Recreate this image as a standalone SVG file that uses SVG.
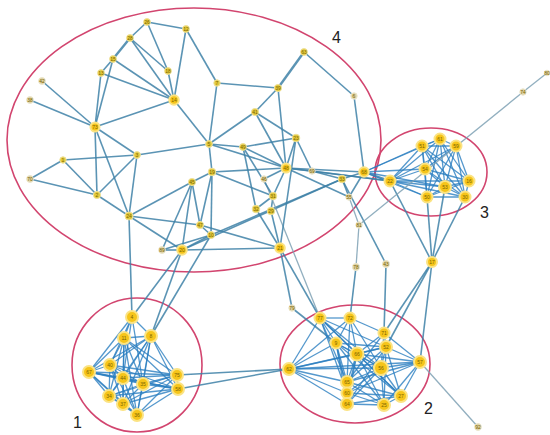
<svg xmlns="http://www.w3.org/2000/svg" width="550" height="435" viewBox="0 0 550 435">
<style>
.e{stroke:#3f82a8;stroke-width:1.6;opacity:.85}
.c{stroke:#2b7fc1;stroke-width:1.3;opacity:.8}
.l{stroke:#7fa2b5;stroke-width:1.3;opacity:.85}
.ring{fill:none;stroke:#d2456f;stroke-width:1.6}
.s circle{fill:#e2c93c;stroke:#efe19a;stroke-width:1}
.b circle{fill:#f6c51a;stroke:#fbe383;stroke-width:2}
.g circle{fill:#ddd1a2;stroke:#ece6cc;stroke-width:1}
.node text{font-family:"Liberation Sans",Arial,sans-serif;font-size:5px;fill:#7a6400;text-anchor:middle}
.lab{font-family:"Liberation Sans",Arial,sans-serif;font-size:16px;fill:#222}
</style>
<rect width="550" height="435" fill="#fff"/>
<g id="rings">
<ellipse class="ring" cx="194" cy="140" rx="187" ry="132"/>
<ellipse class="ring" cx="431" cy="172" rx="56" ry="44"/>
<ellipse class="ring" cx="137" cy="365" rx="65" ry="67"/>
<ellipse class="ring" cx="355" cy="364" rx="75" ry="59"/>
</g>
<g id="connectors">
<line class="e" x1="147" y1="22" x2="186" y2="29"/>
<line class="e" x1="147" y1="22" x2="130" y2="38"/>
<line class="e" x1="147" y1="22" x2="168" y2="71"/>
<line class="e" x1="130" y1="38" x2="113" y2="59" style="stroke-width:2.4"/>
<line class="e" x1="130" y1="38" x2="174" y2="100"/>
<line class="e" x1="130" y1="38" x2="168" y2="71"/>
<line class="e" x1="113" y1="59" x2="174" y2="100"/>
<line class="e" x1="113" y1="59" x2="101" y2="73"/>
<line class="e" x1="113" y1="59" x2="95" y2="127"/>
<line class="e" x1="101" y1="73" x2="174" y2="100"/>
<line class="e" x1="101" y1="73" x2="95" y2="127"/>
<line class="e" x1="168" y1="71" x2="174" y2="100"/>
<line class="e" x1="186" y1="29" x2="174" y2="100"/>
<line class="e" x1="186" y1="29" x2="217" y2="83"/>
<line class="e" x1="217" y1="83" x2="278" y2="88"/>
<line class="e" x1="217" y1="83" x2="209" y2="144"/>
<line class="e" x1="174" y1="100" x2="95" y2="127"/>
<line class="e" x1="174" y1="100" x2="209" y2="144"/>
<line class="e" x1="95" y1="127" x2="42" y2="81"/>
<line class="e" x1="95" y1="127" x2="30" y2="100"/>
<line class="e" x1="95" y1="127" x2="97" y2="195"/>
<line class="e" x1="95" y1="127" x2="129" y2="216"/>
<line class="e" x1="95" y1="127" x2="137" y2="155"/>
<line class="e" x1="278" y1="88" x2="304" y2="52" style="stroke-width:2.4"/>
<line class="e" x1="304" y1="52" x2="354" y2="96"/>
<line class="e" x1="354" y1="96" x2="364" y2="172"/>
<line class="e" x1="278" y1="88" x2="255" y2="112"/>
<line class="e" x1="278" y1="88" x2="286" y2="168"/>
<line class="e" x1="255" y1="112" x2="296" y2="138"/>
<line class="e" x1="255" y1="112" x2="209" y2="144"/>
<line class="e" x1="255" y1="112" x2="286" y2="168"/>
<line class="e" x1="296" y1="138" x2="243" y2="147"/>
<line class="e" x1="296" y1="138" x2="286" y2="168"/>
<line class="e" x1="209" y1="144" x2="243" y2="147"/>
<line class="e" x1="209" y1="144" x2="212" y2="172"/>
<line class="e" x1="63" y1="160" x2="137" y2="155"/>
<line class="e" x1="63" y1="160" x2="30" y2="179"/>
<line class="e" x1="63" y1="160" x2="97" y2="195"/>
<line class="e" x1="30" y1="179" x2="97" y2="195"/>
<line class="e" x1="97" y1="195" x2="129" y2="216"/>
<line class="e" x1="97" y1="195" x2="137" y2="155"/>
<line class="e" x1="137" y1="155" x2="129" y2="216"/>
<line class="e" x1="137" y1="155" x2="209" y2="144"/>
<line class="e" x1="129" y1="216" x2="192" y2="182"/>
<line class="e" x1="129" y1="216" x2="182" y2="250"/>
<line class="e" x1="129" y1="216" x2="200" y2="225"/>
<line class="e" x1="129" y1="216" x2="132" y2="317"/>
<line class="e" x1="212" y1="172" x2="192" y2="182"/>
<line class="e" x1="212" y1="172" x2="286" y2="168"/>
<line class="e" x1="212" y1="172" x2="211" y2="235"/>
<line class="e" x1="192" y1="182" x2="200" y2="225"/>
<line class="e" x1="192" y1="182" x2="162" y2="250"/>
<line class="e" x1="192" y1="182" x2="182" y2="250"/>
<line class="e" x1="286" y1="168" x2="264" y2="179"/>
<line class="e" x1="286" y1="168" x2="243" y2="147"/>
<line class="e" x1="286" y1="168" x2="312" y2="171"/>
<line class="e" x1="312" y1="171" x2="342" y2="179"/>
<line class="e" x1="342" y1="179" x2="364" y2="172"/>
<line class="e" x1="364" y1="172" x2="390" y2="181" style="stroke-width:2.2"/>
<line class="e" x1="286" y1="168" x2="273" y2="196"/>
<line class="e" x1="273" y1="196" x2="256" y2="209"/>
<line class="e" x1="273" y1="196" x2="271" y2="211"/>
<line class="e" x1="256" y1="209" x2="280" y2="248"/>
<line class="e" x1="271" y1="211" x2="280" y2="248"/>
<line class="e" x1="200" y1="225" x2="280" y2="248"/>
<line class="e" x1="182" y1="250" x2="280" y2="248"/>
<line class="e" x1="342" y1="179" x2="349" y2="197"/>
<line class="l" x1="349" y1="197" x2="359" y2="225"/>
<line class="e" x1="364" y1="172" x2="349" y2="197"/>
<line class="e" x1="182" y1="250" x2="342" y2="179"/>
<line class="e" x1="211" y1="235" x2="342" y2="179"/>
<line class="e" x1="200" y1="225" x2="211" y2="235"/>
<line class="e" x1="211" y1="235" x2="182" y2="250"/>
<line class="e" x1="162" y1="250" x2="211" y2="235"/>
<line class="e" x1="162" y1="250" x2="182" y2="250"/>
<line class="l" x1="264" y1="179" x2="320" y2="318"/>
<line class="e" x1="280" y1="248" x2="292" y2="308"/>
<line class="e" x1="280" y1="248" x2="320" y2="318"/>
<line class="l" x1="359" y1="225" x2="356" y2="267"/>
<line class="e" x1="356" y1="267" x2="350" y2="318"/>
<line class="e" x1="386" y1="264" x2="342" y2="179"/>
<line class="e" x1="386" y1="264" x2="384" y2="333"/>
<line class="e" x1="256" y1="209" x2="243" y2="147"/>
<line class="e" x1="273" y1="196" x2="212" y2="172"/>
<line class="e" x1="243" y1="147" x2="273" y2="196"/>
<line class="e" x1="296" y1="138" x2="312" y2="171"/>
<line class="e" x1="286" y1="168" x2="349" y2="197"/>
<line class="e" x1="280" y1="248" x2="296" y2="138"/>
<line class="e" x1="209" y1="144" x2="286" y2="168"/>
<line class="e" x1="212" y1="172" x2="200" y2="225"/>
<line class="e" x1="390" y1="181" x2="286" y2="168"/>
<line class="e" x1="390" y1="181" x2="312" y2="171"/>
<line class="e" x1="364" y1="172" x2="286" y2="168"/>
<line class="e" x1="292" y1="308" x2="336" y2="343"/>
<line class="e" x1="132" y1="317" x2="182" y2="250"/>
<line class="e" x1="151" y1="336" x2="211" y2="235"/>
<line class="e" x1="151" y1="336" x2="182" y2="250"/>
<line class="e" x1="177" y1="375" x2="289" y2="369"/>
<line class="e" x1="178" y1="389" x2="289" y2="369"/>
<line class="c" x1="390" y1="181" x2="422" y2="146"/>
<line class="c" x1="390" y1="181" x2="440" y2="139"/>
<line class="c" x1="390" y1="181" x2="456" y2="146"/>
<line class="c" x1="390" y1="181" x2="425" y2="169"/>
<line class="c" x1="390" y1="181" x2="445" y2="187"/>
<line class="c" x1="390" y1="181" x2="469" y2="181"/>
<line class="c" x1="390" y1="181" x2="427" y2="197"/>
<line class="c" x1="390" y1="181" x2="465" y2="197"/>
<line class="c" x1="422" y1="146" x2="440" y2="139"/>
<line class="c" x1="422" y1="146" x2="456" y2="146"/>
<line class="c" x1="422" y1="146" x2="425" y2="169"/>
<line class="c" x1="422" y1="146" x2="445" y2="187"/>
<line class="c" x1="422" y1="146" x2="469" y2="181"/>
<line class="c" x1="422" y1="146" x2="427" y2="197"/>
<line class="c" x1="422" y1="146" x2="465" y2="197"/>
<line class="c" x1="440" y1="139" x2="456" y2="146"/>
<line class="c" x1="440" y1="139" x2="425" y2="169"/>
<line class="c" x1="440" y1="139" x2="445" y2="187"/>
<line class="c" x1="440" y1="139" x2="469" y2="181"/>
<line class="c" x1="440" y1="139" x2="427" y2="197"/>
<line class="c" x1="440" y1="139" x2="465" y2="197"/>
<line class="c" x1="456" y1="146" x2="425" y2="169"/>
<line class="c" x1="456" y1="146" x2="445" y2="187"/>
<line class="c" x1="456" y1="146" x2="469" y2="181"/>
<line class="c" x1="456" y1="146" x2="427" y2="197"/>
<line class="c" x1="456" y1="146" x2="465" y2="197"/>
<line class="c" x1="425" y1="169" x2="445" y2="187"/>
<line class="c" x1="425" y1="169" x2="469" y2="181"/>
<line class="c" x1="425" y1="169" x2="427" y2="197"/>
<line class="c" x1="425" y1="169" x2="465" y2="197"/>
<line class="c" x1="445" y1="187" x2="469" y2="181"/>
<line class="c" x1="445" y1="187" x2="427" y2="197"/>
<line class="c" x1="445" y1="187" x2="465" y2="197"/>
<line class="c" x1="469" y1="181" x2="427" y2="197"/>
<line class="c" x1="469" y1="181" x2="465" y2="197"/>
<line class="c" x1="427" y1="197" x2="465" y2="197"/>
<line class="c" x1="364" y1="172" x2="422" y2="146"/>
<line class="c" x1="364" y1="172" x2="425" y2="169"/>
<line class="c" x1="364" y1="172" x2="445" y2="187"/>
<line class="c" x1="364" y1="172" x2="427" y2="197"/>
<line class="c" x1="364" y1="172" x2="440" y2="139"/>
<line class="e" x1="390" y1="181" x2="432" y2="262"/>
<line class="e" x1="427" y1="197" x2="432" y2="262"/>
<line class="e" x1="445" y1="187" x2="432" y2="262"/>
<line class="e" x1="465" y1="197" x2="432" y2="262"/>
<line class="l" x1="547" y1="73" x2="523" y2="92"/>
<line class="l" x1="523" y1="92" x2="359" y2="225"/>
<line class="e" x1="432" y1="262" x2="420" y2="362"/>
<line class="e" x1="432" y1="262" x2="384" y2="333"/>
<line class="e" x1="432" y1="262" x2="386" y2="347"/>
<line class="l" x1="420" y1="362" x2="478" y2="427"/>
<line class="c" x1="132" y1="317" x2="124" y2="338"/>
<line class="c" x1="132" y1="317" x2="151" y2="336"/>
<line class="c" x1="132" y1="317" x2="110" y2="365"/>
<line class="c" x1="132" y1="317" x2="89" y2="372"/>
<line class="c" x1="132" y1="317" x2="123" y2="378"/>
<line class="c" x1="132" y1="317" x2="143" y2="384"/>
<line class="c" x1="124" y1="338" x2="151" y2="336"/>
<line class="c" x1="124" y1="338" x2="110" y2="365"/>
<line class="c" x1="124" y1="338" x2="89" y2="372"/>
<line class="c" x1="124" y1="338" x2="123" y2="378"/>
<line class="c" x1="124" y1="338" x2="143" y2="384"/>
<line class="c" x1="124" y1="338" x2="177" y2="375"/>
<line class="c" x1="124" y1="338" x2="178" y2="389"/>
<line class="c" x1="124" y1="338" x2="109" y2="396"/>
<line class="c" x1="124" y1="338" x2="123" y2="404"/>
<line class="c" x1="124" y1="338" x2="137" y2="415"/>
<line class="c" x1="151" y1="336" x2="110" y2="365"/>
<line class="c" x1="151" y1="336" x2="89" y2="372"/>
<line class="c" x1="151" y1="336" x2="123" y2="378"/>
<line class="c" x1="151" y1="336" x2="143" y2="384"/>
<line class="c" x1="151" y1="336" x2="177" y2="375"/>
<line class="c" x1="151" y1="336" x2="178" y2="389"/>
<line class="c" x1="151" y1="336" x2="109" y2="396"/>
<line class="c" x1="151" y1="336" x2="123" y2="404"/>
<line class="c" x1="151" y1="336" x2="137" y2="415"/>
<line class="c" x1="110" y1="365" x2="89" y2="372"/>
<line class="c" x1="110" y1="365" x2="123" y2="378"/>
<line class="c" x1="110" y1="365" x2="143" y2="384"/>
<line class="c" x1="110" y1="365" x2="177" y2="375"/>
<line class="c" x1="110" y1="365" x2="178" y2="389"/>
<line class="c" x1="110" y1="365" x2="109" y2="396"/>
<line class="c" x1="110" y1="365" x2="123" y2="404"/>
<line class="c" x1="110" y1="365" x2="137" y2="415"/>
<line class="c" x1="89" y1="372" x2="123" y2="378"/>
<line class="c" x1="89" y1="372" x2="143" y2="384"/>
<line class="c" x1="89" y1="372" x2="177" y2="375"/>
<line class="c" x1="89" y1="372" x2="178" y2="389"/>
<line class="c" x1="89" y1="372" x2="109" y2="396"/>
<line class="c" x1="89" y1="372" x2="123" y2="404"/>
<line class="c" x1="89" y1="372" x2="137" y2="415"/>
<line class="c" x1="123" y1="378" x2="143" y2="384"/>
<line class="c" x1="123" y1="378" x2="177" y2="375"/>
<line class="c" x1="123" y1="378" x2="178" y2="389"/>
<line class="c" x1="123" y1="378" x2="109" y2="396"/>
<line class="c" x1="123" y1="378" x2="123" y2="404"/>
<line class="c" x1="123" y1="378" x2="137" y2="415"/>
<line class="c" x1="143" y1="384" x2="177" y2="375"/>
<line class="c" x1="143" y1="384" x2="178" y2="389"/>
<line class="c" x1="143" y1="384" x2="109" y2="396"/>
<line class="c" x1="143" y1="384" x2="123" y2="404"/>
<line class="c" x1="143" y1="384" x2="137" y2="415"/>
<line class="c" x1="177" y1="375" x2="178" y2="389"/>
<line class="c" x1="177" y1="375" x2="109" y2="396"/>
<line class="c" x1="177" y1="375" x2="123" y2="404"/>
<line class="c" x1="177" y1="375" x2="137" y2="415"/>
<line class="c" x1="178" y1="389" x2="109" y2="396"/>
<line class="c" x1="178" y1="389" x2="123" y2="404"/>
<line class="c" x1="178" y1="389" x2="137" y2="415"/>
<line class="c" x1="109" y1="396" x2="123" y2="404"/>
<line class="c" x1="109" y1="396" x2="137" y2="415"/>
<line class="c" x1="123" y1="404" x2="137" y2="415"/>
<line class="c" x1="320" y1="318" x2="350" y2="318"/>
<line class="c" x1="320" y1="318" x2="336" y2="343"/>
<line class="c" x1="320" y1="318" x2="357" y2="354"/>
<line class="c" x1="320" y1="318" x2="381" y2="368"/>
<line class="c" x1="320" y1="318" x2="289" y2="369"/>
<line class="c" x1="320" y1="318" x2="347" y2="382"/>
<line class="c" x1="320" y1="318" x2="347" y2="393"/>
<line class="c" x1="320" y1="318" x2="386" y2="347"/>
<line class="c" x1="320" y1="318" x2="401" y2="396"/>
<line class="c" x1="350" y1="318" x2="336" y2="343"/>
<line class="c" x1="350" y1="318" x2="357" y2="354"/>
<line class="c" x1="350" y1="318" x2="384" y2="333"/>
<line class="c" x1="350" y1="318" x2="381" y2="368"/>
<line class="c" x1="350" y1="318" x2="347" y2="382"/>
<line class="c" x1="350" y1="318" x2="289" y2="369"/>
<line class="c" x1="336" y1="343" x2="357" y2="354"/>
<line class="c" x1="336" y1="343" x2="381" y2="368"/>
<line class="c" x1="336" y1="343" x2="289" y2="369"/>
<line class="c" x1="336" y1="343" x2="347" y2="382"/>
<line class="c" x1="336" y1="343" x2="347" y2="393"/>
<line class="c" x1="336" y1="343" x2="347" y2="404"/>
<line class="c" x1="336" y1="343" x2="384" y2="405"/>
<line class="c" x1="336" y1="343" x2="401" y2="396"/>
<line class="c" x1="336" y1="343" x2="386" y2="347"/>
<line class="c" x1="384" y1="333" x2="386" y2="347"/>
<line class="c" x1="384" y1="333" x2="357" y2="354"/>
<line class="c" x1="384" y1="333" x2="420" y2="362"/>
<line class="c" x1="384" y1="333" x2="381" y2="368"/>
<line class="c" x1="384" y1="333" x2="347" y2="382"/>
<line class="c" x1="386" y1="347" x2="357" y2="354"/>
<line class="c" x1="386" y1="347" x2="420" y2="362"/>
<line class="c" x1="386" y1="347" x2="381" y2="368"/>
<line class="c" x1="386" y1="347" x2="347" y2="382"/>
<line class="c" x1="386" y1="347" x2="347" y2="404"/>
<line class="c" x1="386" y1="347" x2="384" y2="405"/>
<line class="c" x1="386" y1="347" x2="401" y2="396"/>
<line class="c" x1="386" y1="347" x2="289" y2="369"/>
<line class="c" x1="357" y1="354" x2="420" y2="362"/>
<line class="c" x1="357" y1="354" x2="381" y2="368"/>
<line class="c" x1="357" y1="354" x2="289" y2="369"/>
<line class="c" x1="357" y1="354" x2="347" y2="382"/>
<line class="c" x1="357" y1="354" x2="347" y2="393"/>
<line class="c" x1="357" y1="354" x2="347" y2="404"/>
<line class="c" x1="357" y1="354" x2="384" y2="405"/>
<line class="c" x1="357" y1="354" x2="401" y2="396"/>
<line class="c" x1="420" y1="362" x2="381" y2="368"/>
<line class="c" x1="420" y1="362" x2="347" y2="382"/>
<line class="c" x1="420" y1="362" x2="347" y2="393"/>
<line class="c" x1="420" y1="362" x2="384" y2="405"/>
<line class="c" x1="420" y1="362" x2="401" y2="396"/>
<line class="c" x1="420" y1="362" x2="289" y2="369"/>
<line class="c" x1="381" y1="368" x2="347" y2="382"/>
<line class="c" x1="381" y1="368" x2="347" y2="393"/>
<line class="c" x1="381" y1="368" x2="347" y2="404"/>
<line class="c" x1="381" y1="368" x2="384" y2="405"/>
<line class="c" x1="381" y1="368" x2="401" y2="396"/>
<line class="c" x1="381" y1="368" x2="289" y2="369"/>
<line class="c" x1="289" y1="369" x2="347" y2="382"/>
<line class="c" x1="289" y1="369" x2="347" y2="393"/>
<line class="c" x1="289" y1="369" x2="347" y2="404"/>
<line class="c" x1="347" y1="382" x2="347" y2="393"/>
<line class="c" x1="347" y1="382" x2="347" y2="404"/>
<line class="c" x1="347" y1="382" x2="384" y2="405"/>
<line class="c" x1="347" y1="382" x2="401" y2="396"/>
<line class="c" x1="347" y1="393" x2="347" y2="404"/>
<line class="c" x1="347" y1="393" x2="384" y2="405"/>
<line class="c" x1="347" y1="393" x2="401" y2="396"/>
<line class="c" x1="347" y1="404" x2="384" y2="405"/>
<line class="c" x1="347" y1="404" x2="401" y2="396"/>
<line class="c" x1="384" y1="405" x2="401" y2="396"/>
</g>
<g id="nodes">
<g id="n26" class="node s"><circle cx="147" cy="22" r="3.4"/><text x="147" y="23.8">26</text></g>
<g id="n12" class="node s"><circle cx="186" cy="29" r="3.4"/><text x="186" y="30.8">12</text></g>
<g id="n28" class="node s"><circle cx="130" cy="38" r="3.4"/><text x="130" y="39.8">28</text></g>
<g id="n15" class="node s"><circle cx="113" cy="59" r="3.4"/><text x="113" y="60.8">15</text></g>
<g id="n13" class="node s"><circle cx="101" cy="73" r="3.4"/><text x="101" y="74.8">13</text></g>
<g id="n18" class="node s"><circle cx="168" cy="71" r="3.4"/><text x="168" y="72.8">18</text></g>
<g id="n14" class="node b"><circle cx="174" cy="100" r="4.8"/><text x="174" y="101.8">14</text></g>
<g id="n42" class="node g"><circle cx="42" cy="81" r="3.4"/><text x="42" y="82.8">42</text></g>
<g id="n38" class="node g"><circle cx="30" cy="100" r="3.4"/><text x="30" y="101.8">38</text></g>
<g id="n73" class="node b"><circle cx="95" cy="127" r="4.5"/><text x="95" y="128.8">73</text></g>
<g id="n7" class="node s"><circle cx="217" cy="83" r="3.2"/><text x="217" y="84.8">7</text></g>
<g id="n63" class="node s"><circle cx="304" cy="52" r="3.4"/><text x="304" y="53.8">63</text></g>
<g id="n6" class="node g"><circle cx="354" cy="96" r="3.2"/><text x="354" y="97.8">6</text></g>
<g id="n39" class="node s"><circle cx="278" cy="88" r="3.6"/><text x="278" y="89.8">39</text></g>
<g id="n41" class="node s"><circle cx="255" cy="112" r="3.6"/><text x="255" y="113.8">41</text></g>
<g id="n23" class="node s"><circle cx="296" cy="138" r="3.8"/><text x="296" y="139.8">23</text></g>
<g id="n5" class="node s"><circle cx="209" cy="144" r="3.4"/><text x="209" y="145.8">5</text></g>
<g id="n49" class="node s"><circle cx="243" cy="147" r="3.4"/><text x="243" y="148.8">49</text></g>
<g id="n1" class="node s"><circle cx="63" cy="160" r="3.2"/><text x="63" y="161.8">1</text></g>
<g id="n3" class="node s"><circle cx="137" cy="155" r="3.4"/><text x="137" y="156.8">3</text></g>
<g id="n70" class="node g"><circle cx="30" cy="179" r="3.4"/><text x="30" y="180.8">70</text></g>
<g id="n2" class="node s"><circle cx="97" cy="195" r="3.6"/><text x="97" y="196.8">2</text></g>
<g id="n24" class="node s"><circle cx="129" cy="216" r="4"/><text x="129" y="217.8">24</text></g>
<g id="n19" class="node s"><circle cx="212" cy="172" r="3.8"/><text x="212" y="173.8">19</text></g>
<g id="n45" class="node s"><circle cx="192" cy="182" r="3.6"/><text x="192" y="183.8">45</text></g>
<g id="n48" class="node b"><circle cx="286" cy="168" r="4.5"/><text x="286" y="169.8">48</text></g>
<g id="n46" class="node g"><circle cx="264" cy="179" r="3.2"/><text x="264" y="180.8">46</text></g>
<g id="n69" class="node g"><circle cx="312" cy="171" r="3.2"/><text x="312" y="172.8">69</text></g>
<g id="n33" class="node s"><circle cx="342" cy="179" r="3.8"/><text x="342" y="180.8">33</text></g>
<g id="n68" class="node b"><circle cx="364" cy="172" r="4.8"/><text x="364" y="173.8">68</text></g>
<g id="n31" class="node s"><circle cx="273" cy="196" r="3.8"/><text x="273" y="197.8">31</text></g>
<g id="n32" class="node s"><circle cx="256" cy="209" r="3.8"/><text x="256" y="210.8">32</text></g>
<g id="n29" class="node s"><circle cx="271" cy="211" r="3.8"/><text x="271" y="212.8">29</text></g>
<g id="n47" class="node s"><circle cx="200" cy="225" r="3.6"/><text x="200" y="226.8">47</text></g>
<g id="n10" class="node s"><circle cx="211" cy="235" r="3.6"/><text x="211" y="236.8">10</text></g>
<g id="n20" class="node b"><circle cx="182" cy="250" r="4.8"/><text x="182" y="251.8">20</text></g>
<g id="n89" class="node g"><circle cx="162" cy="250" r="3.4"/><text x="162" y="251.8">89</text></g>
<g id="n21" class="node b"><circle cx="280" cy="248" r="4.8"/><text x="280" y="249.8">21</text></g>
<g id="n55" class="node g"><circle cx="349" cy="197" r="3.2"/><text x="349" y="198.8">55</text></g>
<g id="n81" class="node g"><circle cx="359" cy="225" r="3.2"/><text x="359" y="226.8">81</text></g>
<g id="n78" class="node g"><circle cx="356" cy="267" r="3.6"/><text x="356" y="268.8">78</text></g>
<g id="n43" class="node g"><circle cx="386" cy="264" r="3.6"/><text x="386" y="265.8">43</text></g>
<g id="n79" class="node g"><circle cx="292" cy="308" r="3.2"/><text x="292" y="309.8">79</text></g>
<g id="n22" class="node b"><circle cx="390" cy="181" r="5.5"/><text x="390" y="182.8">22</text></g>
<g id="n51" class="node b"><circle cx="422" cy="146" r="5.5"/><text x="422" y="147.8">51</text></g>
<g id="n61" class="node b"><circle cx="440" cy="139" r="5.5"/><text x="440" y="140.8">61</text></g>
<g id="n59" class="node b"><circle cx="456" cy="146" r="5.5"/><text x="456" y="147.8">59</text></g>
<g id="n54" class="node b"><circle cx="425" cy="169" r="5.5"/><text x="425" y="170.8">54</text></g>
<g id="n53" class="node b"><circle cx="445" cy="187" r="6"/><text x="445" y="188.8">53</text></g>
<g id="n16" class="node b"><circle cx="469" cy="181" r="5.5"/><text x="469" y="182.8">16</text></g>
<g id="n50" class="node b"><circle cx="427" cy="197" r="5.5"/><text x="427" y="198.8">50</text></g>
<g id="n30" class="node b"><circle cx="465" cy="197" r="5.5"/><text x="465" y="198.8">30</text></g>
<g id="n17" class="node b"><circle cx="432" cy="262" r="5"/><text x="432" y="263.8">17</text></g>
<g id="n74" class="node g"><circle cx="523" cy="92" r="3.2"/><text x="523" y="93.8">74</text></g>
<g id="n80" class="node g"><circle cx="547" cy="73" r="2.8"/><text x="547" y="74.8">80</text></g>
<g id="n4" class="node b"><circle cx="132" cy="317" r="6"/><text x="132" y="318.8">4</text></g>
<g id="n11" class="node b"><circle cx="124" cy="338" r="6"/><text x="124" y="339.8">11</text></g>
<g id="n8" class="node b"><circle cx="151" cy="336" r="6"/><text x="151" y="337.8">8</text></g>
<g id="n40" class="node b"><circle cx="110" cy="365" r="6"/><text x="110" y="366.8">40</text></g>
<g id="n67" class="node b"><circle cx="89" cy="372" r="6"/><text x="89" y="373.8">67</text></g>
<g id="n44" class="node b"><circle cx="123" cy="378" r="6"/><text x="123" y="379.8">44</text></g>
<g id="n35" class="node b"><circle cx="143" cy="384" r="6"/><text x="143" y="385.8">35</text></g>
<g id="n75" class="node b"><circle cx="177" cy="375" r="6"/><text x="177" y="376.8">75</text></g>
<g id="n58" class="node b"><circle cx="178" cy="389" r="6"/><text x="178" y="390.8">58</text></g>
<g id="n34" class="node b"><circle cx="109" cy="396" r="6"/><text x="109" y="397.8">34</text></g>
<g id="n37" class="node b"><circle cx="123" cy="404" r="6"/><text x="123" y="405.8">37</text></g>
<g id="n36" class="node b"><circle cx="137" cy="415" r="6"/><text x="137" y="416.8">36</text></g>
<g id="n77" class="node b"><circle cx="320" cy="318" r="5.5"/><text x="320" y="319.8">77</text></g>
<g id="n72" class="node b"><circle cx="350" cy="318" r="5.5"/><text x="350" y="319.8">72</text></g>
<g id="n9" class="node b"><circle cx="336" cy="343" r="5.5"/><text x="336" y="344.8">9</text></g>
<g id="n71" class="node b"><circle cx="384" cy="333" r="5.5"/><text x="384" y="334.8">71</text></g>
<g id="n52" class="node b"><circle cx="386" cy="347" r="6"/><text x="386" y="348.8">52</text></g>
<g id="n66" class="node b"><circle cx="357" cy="354" r="6.5"/><text x="357" y="355.8">66</text></g>
<g id="n57" class="node b"><circle cx="420" cy="362" r="6"/><text x="420" y="363.8">57</text></g>
<g id="n56" class="node b"><circle cx="381" cy="368" r="7"/><text x="381" y="369.8">56</text></g>
<g id="n62" class="node b"><circle cx="289" cy="369" r="6"/><text x="289" y="370.8">62</text></g>
<g id="n65" class="node b"><circle cx="347" cy="382" r="6"/><text x="347" y="383.8">65</text></g>
<g id="n60" class="node b"><circle cx="347" cy="393" r="5.5"/><text x="347" y="394.8">60</text></g>
<g id="n64" class="node b"><circle cx="347" cy="404" r="6"/><text x="347" y="405.8">64</text></g>
<g id="n25" class="node b"><circle cx="384" cy="405" r="6"/><text x="384" y="406.8">25</text></g>
<g id="n27" class="node b"><circle cx="401" cy="396" r="6"/><text x="401" y="397.8">27</text></g>
<g id="n92" class="node g"><circle cx="478" cy="427" r="3.4"/><text x="478" y="428.8">92</text></g>
</g>
<g id="labels">
<text class="lab" x="73" y="428">1</text>
<text class="lab" x="424" y="414">2</text>
<text class="lab" x="480" y="218">3</text>
<text class="lab" x="332" y="43">4</text>
</g>
</svg>
